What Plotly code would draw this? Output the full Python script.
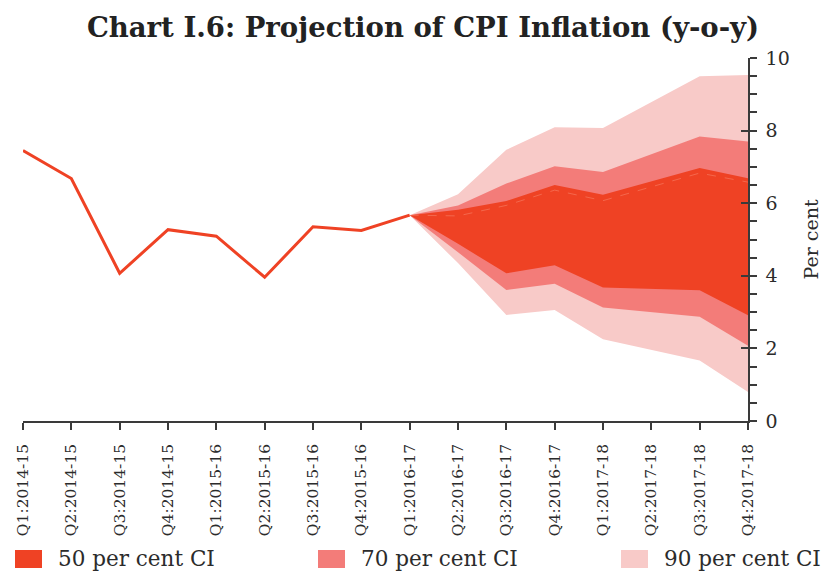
import plotly.graph_objects as go

# ---------------- data ----------------
categories = ["Q1:2014-15", "Q2:2014-15", "Q3:2014-15", "Q4:2014-15",
              "Q1:2015-16", "Q2:2015-16", "Q3:2015-16", "Q4:2015-16",
              "Q1:2016-17", "Q2:2016-17", "Q3:2016-17", "Q4:2016-17",
              "Q1:2017-18", "Q2:2017-18", "Q3:2017-18", "Q4:2017-18"]

actual = [7.45, 6.68, 4.07, 5.27, 5.09, 3.96, 5.35, 5.25, 5.67]

proj_categories = categories[8:]
central = [5.67, 5.65, 5.94, 6.36, 6.07, 6.45, 6.83, 6.58]
upper50 = [5.67, 5.82, 6.06, 6.50, 6.23, 6.60, 6.97, 6.69]
lower50 = [5.67, 4.88, 4.07, 4.29, 3.68, 3.64, 3.60, 2.91]
upper70 = [5.67, 5.94, 6.54, 7.02, 6.86, 7.35, 7.84, 7.70]
lower70 = [5.67, 4.65, 3.61, 3.78, 3.13, 3.00, 2.87, 2.07]
upper90 = [5.67, 6.25, 7.47, 8.09, 8.07, 8.78, 9.50, 9.53]
lower90 = [5.67, 4.35, 2.92, 3.06, 2.25, 1.97, 1.67, 0.80]

band_labels = ["50 per cent CI", "70 per cent CI", "90 per cent CI"]
y_ticks = [0, 2, 4, 6, 8, 10]

title_text = "Chart I.6: Projection of CPI Inflation (y-o-y)"
y_title = "Per cent"

# ---------------- style ----------------
RED = "#EF4224"
C50, C70, C90 = "#EF4224", "#F37C79", "#F8CAC8"
AXIS = "#3a3a3a"
TXT = "#2b2b2b"
FONT = "DejaVu Serif"

W, H = 832, 571
ML, MR, MT, MB = 23, 84, 58, 150

fig = go.Figure()

bands = [(upper90, lower90, C90, band_labels[2]),
         (upper70, lower70, C70, band_labels[1]),
         (upper50, lower50, C50, band_labels[0])]
for up, lo, col, name in bands:
    fig.add_trace(go.Scatter(
        x=proj_categories + proj_categories[::-1],
        y=up + lo[::-1],
        fill="toself", fillcolor=col, mode="lines",
        line=dict(width=0, color=col), name=name,
        showlegend=False, hoverinfo="skip"))

fig.add_trace(go.Scatter(
    x=proj_categories, y=central, mode="lines",
    line=dict(color="rgba(255,190,170,0.30)", width=1, dash="dash"),
    showlegend=False, yaxis="y2", hoverinfo="skip"))

fig.add_trace(go.Scatter(
    x=categories[:len(actual)], y=actual, mode="lines",
    line=dict(color=RED, width=3), showlegend=False, cliponaxis=False))

fig.update_layout(
    width=W, height=H,
    margin=dict(l=ML, r=MR, t=MT, b=MB, autoexpand=False),
    paper_bgcolor="white", plot_bgcolor="white",
    font=dict(family=FONT, color=TXT),
    title=dict(text="<b>" + title_text + "</b>", x=423 / W, xanchor="center",
               y=1 - 27 / H, yanchor="middle", yref="container",
               font=dict(family=FONT, size=27.5, color="#222"),
               automargin=False),
    xaxis=dict(type="category", categoryorder="array", categoryarray=categories,
               range=[0, len(categories) - 1], showgrid=False, zeroline=False,
               showline=True, linecolor=AXIS, linewidth=1.5,
               ticks="outside", ticklen=7, tickwidth=1.5, tickcolor=AXIS,
               tickangle=-90, ticklabelstandoff=8, automargin=False,
               tickfont=dict(family=FONT, size=15.5, color=TXT)),
    yaxis=dict(side="right", range=[0, 10], tickvals=y_ticks,
               showgrid=False, zeroline=False, showline=True,
               linecolor=AXIS, linewidth=1.5, automargin=False,
               ticks="outside", ticklen=7, tickwidth=1.5, tickcolor=AXIS,
               minor=dict(dtick=0.5, ticks="outside", ticklen=7,
                          tickwidth=1.5, tickcolor=AXIS),
               ticklabelstandoff=5,
               tickfont=dict(family=FONT, size=19, color=TXT),
               title=dict(text=y_title, standoff=16,
                          font=dict(family=FONT, size=19, color=TXT))),
    yaxis2=dict(overlaying="y", side="right", range=[0, 10], tickvals=y_ticks,
                showgrid=False, zeroline=False, showline=False,
                automargin=False,
                ticks="inside", ticklen=7, tickwidth=1.5, tickcolor=AXIS,
                showticklabels=False),
    showlegend=False,
)

# ---------------- manual legend (swatches + real text) ----------------
pw = W - ML - MR
ph = H - MT - MB


def px_x(px):
    return (px - ML) / pw


def px_y(py):
    return (H - MB - py) / ph


legend_colors = [C50, C70, C90]
item_left = [15, 318, 621]
for lbl, col, x0 in zip(band_labels, legend_colors, item_left):
    fig.add_shape(type="rect", xref="paper", yref="paper",
                  x0=px_x(x0), x1=px_x(x0 + 27), y0=px_y(550), y1=px_y(568),
                  fillcolor=col, line=dict(width=0))
    fig.add_annotation(text=lbl, xref="paper", yref="paper",
                       x=px_x(x0 + 41), y=px_y(558), xanchor="left",
                       yanchor="middle", showarrow=False,
                       font=dict(family=FONT, size=21.5, color=TXT))

fig.write_html("out.html", config={"displayModeBar": False},
               post_script="document.body.style.margin='0px';"
                           "document.body.style.overflow='hidden';")
